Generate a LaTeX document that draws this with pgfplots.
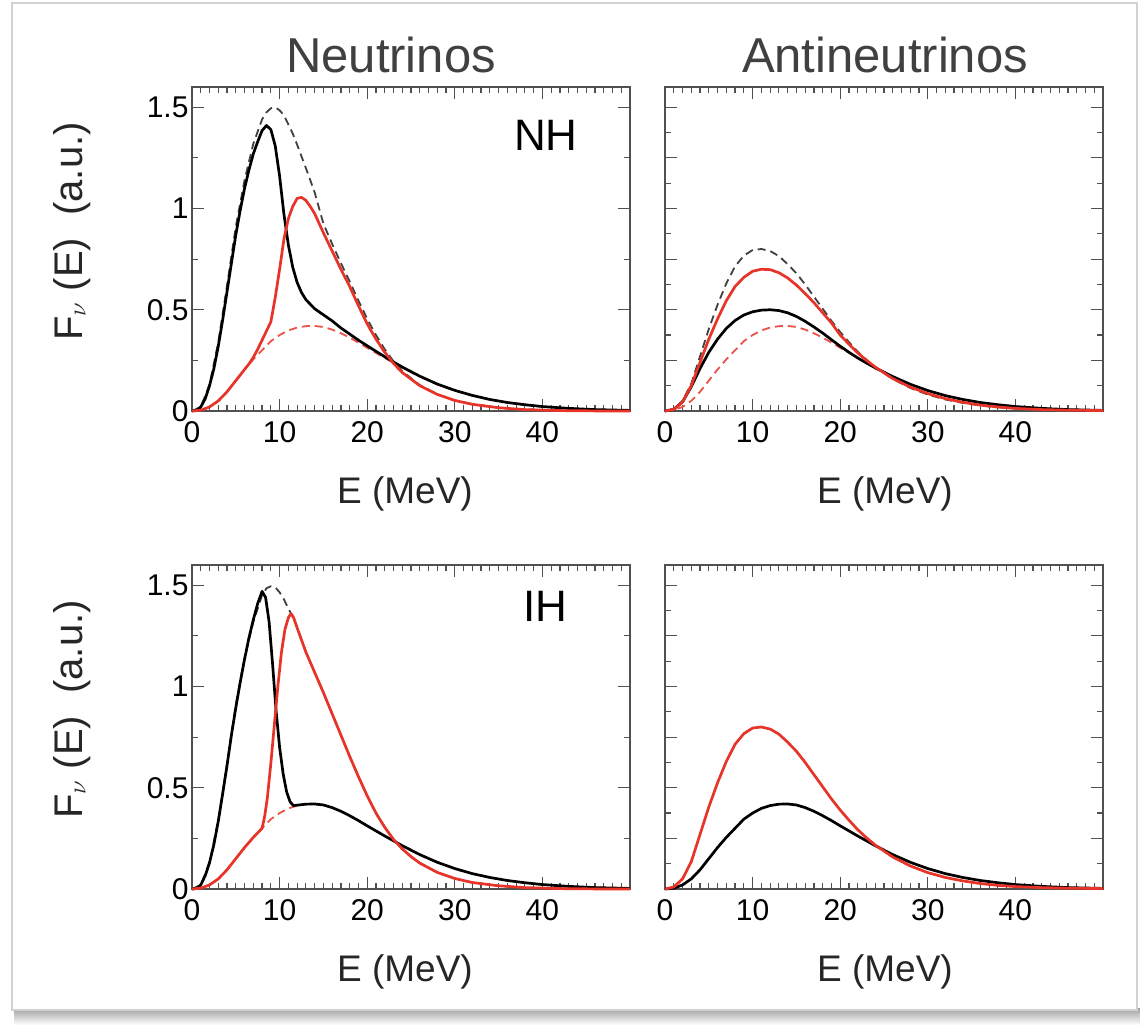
\documentclass[border=0pt]{standalone}
\usepackage{fontspec}
\setmainfont{Liberation Sans}
\usepackage{pgfplots}
\pgfplotsset{compat=1.18}
\usepackage{pgfplotstable}
\definecolor{myred}{RGB}{232,52,40}
\definecolor{axgray}{RGB}{80,80,80}

% unoscillated nu_e (black dashed, neutrino panels)
\pgfplotstableread{
E F
0 0
1 0.02
2 0.13
3 0.34
4 0.62
5 0.91
6 1.14
7 1.32
8 1.44
8.5 1.475
9 1.495
9.5 1.50
10 1.485
10.5 1.46
11 1.415
11.5 1.37
12 1.315
13 1.20
14 1.08
15 0.925
16 0.825
17 0.73
18 0.64
19 0.545
20 0.455
21 0.375
22 0.305
23 0.245
24 0.197
26 0.128
28 0.083
30 0.053
32 0.034
35 0.017
38 0.008
42 0.003
46 0.001
50 0
}\nueD

% unoscillated nu_e as seen in the IH panel
\pgfplotstableread{
E F
0 0
1 0.02
2 0.13
3 0.34
4 0.62
5 0.91
6 1.14
7 1.32
8 1.45
8.5 1.485
9 1.495
9.5 1.49
10 1.465
10.5 1.43
11 1.385
11.3 1.36
11.6 1.34
12 1.29
13 1.17
14 1.07
15 0.97
16 0.865
17 0.76
18 0.655
19 0.555
20 0.46
21 0.375
22 0.305
23 0.245
24 0.198
25 0.16
26 0.128
28 0.082
30 0.052
32 0.032
35 0.016
38 0.007
42 0.002
46 0.0005
50 0
}\nueIH

% nu_x (red dashed)
\pgfplotstableread{
E F
0 0
1 0.004
2 0.02
3 0.05
4 0.095
5 0.15
6 0.205
7 0.255
8 0.30
9 0.345
10 0.375
11 0.398
12 0.412
13 0.419
14 0.42
15 0.415
16 0.402
17 0.384
18 0.362
19 0.338
20 0.312
21 0.287
22 0.262
23 0.238
24 0.214
26 0.17
28 0.132
30 0.101
32 0.076
34 0.057
36 0.042
38 0.031
40 0.022
43 0.013
46 0.007
50 0.003
}\nuxD

% unoscillated anti-nu_e
\pgfplotstableread{
E F
0 0
1 0.01
2 0.05
3 0.135
4 0.27
5 0.405
6 0.525
7 0.63
8 0.715
9 0.767
10 0.795
11 0.80
12 0.79
13 0.765
14 0.725
15 0.68
16 0.625
17 0.565
18 0.505
19 0.445
20 0.39
21 0.34
22 0.293
23 0.253
24 0.217
26 0.158
28 0.114
30 0.081
32 0.057
34 0.04
36 0.027
38 0.018
40 0.012
43 0.007
46 0.004
50 0.002
}\anueD

% NH neutrinos, black solid
\pgfplotstableread{
E F
0 0
0.5 0.003
1 0.02
1.5 0.06
2 0.125
2.5 0.21
3 0.32
3.5 0.45
4 0.59
4.5 0.73
5 0.87
5.5 0.99
6 1.10
6.5 1.19
7 1.27
7.5 1.33
8 1.385
8.5 1.41
9 1.39
9.5 1.31
10 1.16
10.5 0.97
11 0.82
11.5 0.71
12 0.635
12.5 0.585
13 0.55
14 0.505
15 0.475
16 0.445
17 0.41
18 0.38
19 0.35
20 0.322
21 0.295
22 0.268
23 0.242
24 0.217
26 0.172
28 0.133
30 0.102
32 0.077
34 0.057
36 0.042
38 0.031
40 0.022
43 0.013
46 0.007
50 0.003
}\nhBS

% NH neutrinos, red solid
\pgfplotstableread{
E F
0 0
1 0.004
2 0.02
3 0.05
4 0.095
5 0.15
6 0.205
6.5 0.232
7 0.265
7.5 0.305
8 0.35
8.5 0.395
9 0.44
9.5 0.56
10 0.70
10.5 0.85
11 0.95
11.5 1.01
12 1.05
12.5 1.055
13 1.04
13.5 1.01
14 0.975
15 0.88
16 0.79
17 0.70
18 0.615
19 0.52
20 0.43
21 0.355
22 0.29
23 0.235
24 0.19
26 0.125
28 0.082
30 0.052
32 0.033
35 0.016
38 0.007
42 0.002
46 0.0005
50 0
}\nhRS

% NH antineutrinos, black solid
\pgfplotstableread{
E F
0 0
1 0.008
2 0.045
3 0.12
4 0.21
5 0.29
6 0.355
7 0.408
8 0.447
9 0.474
10 0.49
11 0.498
12 0.50
13 0.496
14 0.485
15 0.467
16 0.443
17 0.415
18 0.385
19 0.352
20 0.32
21 0.29
22 0.262
23 0.237
24 0.213
26 0.17
28 0.132
30 0.101
32 0.076
34 0.057
36 0.042
38 0.031
40 0.022
43 0.013
46 0.007
50 0.003
}\nhaBS

% NH antineutrinos, red solid
\pgfplotstableread{
E F
0 0
1 0.008
2 0.045
3 0.125
4 0.24
5 0.355
6 0.455
7 0.545
8 0.615
9 0.66
10 0.69
11 0.70
12 0.698
13 0.683
14 0.657
15 0.622
16 0.58
17 0.535
18 0.485
19 0.435
20 0.375
21 0.33
22 0.287
23 0.25
24 0.217
26 0.16
28 0.118
30 0.086
32 0.061
34 0.043
36 0.029
38 0.02
40 0.013
43 0.007
46 0.004
50 0.002
}\nhaRS

% IH neutrinos, black solid
\pgfplotstableread{
E F
0 0
0.5 0.003
1 0.02
1.5 0.065
2 0.13
2.5 0.22
3 0.335
3.5 0.47
4 0.61
4.5 0.76
5 0.895
5.5 1.02
6 1.135
6.5 1.24
7 1.33
7.5 1.41
8 1.47
8.4 1.44
8.8 1.32
9.2 1.11
9.6 0.88
10 0.70
10.4 0.57
10.8 0.48
11.2 0.43
11.6 0.412
12 0.414
13 0.419
14 0.42
15 0.415
16 0.402
17 0.384
18 0.362
19 0.338
20 0.312
21 0.287
22 0.262
23 0.238
24 0.214
26 0.17
28 0.132
30 0.101
32 0.076
34 0.057
36 0.042
38 0.031
40 0.022
43 0.013
46 0.007
50 0.003
}\ihBS

% IH neutrinos, red solid
\pgfplotstableread{
E F
0 0
1 0.004
2 0.02
3 0.05
4 0.095
5 0.15
6 0.205
7 0.255
8 0.30
8.3 0.36
8.6 0.45
9.0 0.62
9.4 0.81
9.8 1.00
10.2 1.165
10.6 1.28
11.0 1.34
11.3 1.36
11.6 1.34
12 1.29
13 1.17
14 1.07
15 0.97
16 0.865
17 0.76
18 0.655
19 0.555
20 0.46
21 0.375
22 0.305
23 0.245
24 0.198
25 0.16
26 0.128
28 0.082
30 0.052
32 0.032
35 0.016
38 0.007
42 0.002
46 0.0005
50 0
}\ihRS

\pgfplotsset{
  panel/.style={
    scale only axis, width=438pt, height=324pt,
    xmin=0, xmax=50, ymin=0, ymax=1.6,
    xtick={0,10,20,30,40},
    minor xtick={0,1,...,50},
    axis line style={axgray, line width=1.4pt},
    every tick/.style={axgray, line width=1.2pt},
    major tick length=12pt, minor tick length=6pt,
    tick align=inside,
    tick pos=both,
    ticklabel style={font=\fontsize{30}{30}\selectfont},
    /pgf/number format/assume math mode=true,
    xticklabel style={yshift=-7pt},
    xticklabel pos=lower, yticklabel pos=left,
    anchor=south west,
    clip=false,
  },
  leftp/.style={panel, ytick={0,0.5,1,1.5}, minor ytick={0.25,0.75,1.25}},
  rightp/.style={panel, ytick={0,0.25,...,1.5}, yticklabels={}, minor ytick={0.125,0.375,...,1.375}},
  bs/.style={black, line width=2.7pt, line join=round},
  rs/.style={myred, line width=2.7pt, line join=round},
  bd/.style={black!75, line width=1.8pt, dash pattern=on 8pt off 5pt},
  rd/.style={myred!85, line width=1.8pt, dash pattern=on 8pt off 5pt},
}

\begin{document}
\begin{tikzpicture}[x=1pt,y=1pt]
\useasboundingbox (0,0) rectangle (1140,-1026);
\shade[top color=gray!75, bottom color=white] (14,-1008) rectangle (1140,-1025);
\fill[white] (12,-3) rectangle (1137,-1010);
\draw[gray!35, line width=1.5pt] (12,-3) rectangle (1137,-1010);

% top-left: NH neutrinos
\begin{axis}[leftp, at={(192pt,-411pt)}]
\addplot[bd] table[x=E,y=F] {\nueD};
\addplot[rd] table[x=E,y=F] {\nuxD};
\addplot[bs] table[x=E,y=F] {\nhBS};
\addplot[rs] table[x=E,y=F] {\nhRS};
\end{axis}

% top-right: NH antineutrinos
\begin{axis}[rightp, at={(665pt,-411pt)}]
\addplot[bd] table[x=E,y=F] {\anueD};
\addplot[rd] table[x=E,y=F] {\nuxD};
\addplot[bs] table[x=E,y=F] {\nhaBS};
\addplot[rs] table[x=E,y=F] {\nhaRS};
\end{axis}

% bottom-left: IH neutrinos
\begin{axis}[leftp, at={(192pt,-889pt)}]
\addplot[bd] table[x=E,y=F] {\nueIH};
\addplot[rd] table[x=E,y=F] {\nuxD};
\addplot[bs] table[x=E,y=F] {\ihBS};
\addplot[rs] table[x=E,y=F] {\ihRS};
\end{axis}

% bottom-right: IH antineutrinos
\begin{axis}[rightp, at={(665pt,-889pt)}]
\addplot[bs] table[x=E,y=F] {\nuxD};
\addplot[rs] table[x=E,y=F] {\anueD};
\end{axis}

\node[anchor=base, font=\fontsize{49}{49}\selectfont, text=black!75] at (391,-72) {Neutrinos};
\node[anchor=base, font=\fontsize{49}{49}\selectfont, text=black!75] at (885,-72) {Antineutrinos};
\node[anchor=base, font=\fontsize{44}{44}\selectfont] at (546,-150.7) {NH};
\node[anchor=base, font=\fontsize{44}{44}\selectfont] at (545,-621) {IH};
\foreach \xx in {405,885} {
  \node[anchor=base, font=\fontsize{37}{37}\selectfont, text=black!85] at (\xx,-503) {E (MeV)};
  \node[anchor=base, font=\fontsize{37}{37}\selectfont, text=black!85] at (\xx,-981) {E (MeV)};
}
\foreach \yy in {-231.5,-709.5} {
  \node[anchor=base, rotate=90, font=\fontsize{40}{40}\selectfont, text=black!85] at (82,\yy) {F$_{\nu}$ (E)\ \ (a.u.)};
}
\end{tikzpicture}
\end{document}
